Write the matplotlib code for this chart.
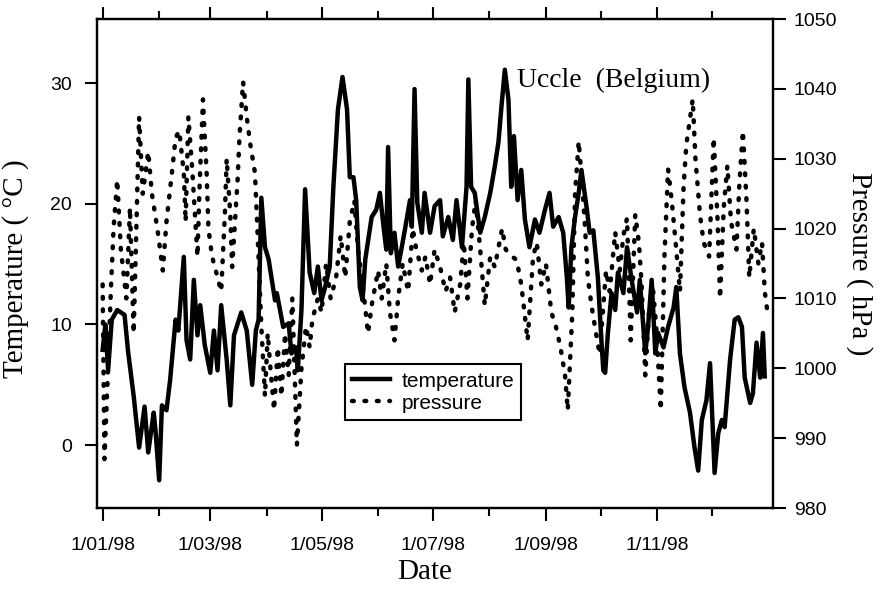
import datetime
import numpy as np
import matplotlib
matplotlib.use('Agg')
import matplotlib.pyplot as plt
import matplotlib.dates as mdates
from matplotlib.ticker import FixedLocator, FuncFormatter

# day of year (0 = 1 Jan 1998) and values
temp_day = [0, 1.5, 3, 5, 8, 12, 14, 17, 20, 23, 25, 28, 29, 31, 32.5, 35, 37, 40,
            41.5, 44.5, 46, 48, 50, 52, 53.5, 56, 59, 61, 63, 65, 68, 70, 72, 76,
            79, 82, 84, 85.5, 87, 89, 91, 94.5, 95.5, 99, 102, 103.5, 106, 107,
            109, 111, 113.5, 116, 118, 120, 122, 124.5, 126.5, 129, 131.5, 134,
            135.5, 137.5, 139, 141, 142.5, 144, 147.5, 150, 152, 154, 155.5,
            156.5, 158, 160, 162, 164, 166, 168.5, 169.5, 171, 172.5, 175, 176.5,
            179.5, 182, 185, 186.5, 189.5, 192, 194, 197, 199.5, 200.5, 202, 204,
            207, 209.5, 212.5, 215, 217, 218.5, 220.5, 222.5, 224, 225.5, 227.5,
            229.5, 231.5, 234, 237, 239.5, 242.5, 245, 247, 250, 252.5, 254.5,
            255.5, 257, 259, 261, 262.5, 265.5, 267, 269, 271.5, 273.5, 274.5,
            275.5, 277, 279, 281, 282.5, 285.5, 287.5, 290, 293, 294.5, 297.5, 299,
            301, 303, 304.5, 307.5, 310, 313, 314.5, 316.5, 319, 322, 324.5, 326.5,
            328.5, 331, 333, 335.5, 337.5, 339.5, 341, 344, 346.5, 348.5, 350.5,
            352, 355, 356.5, 358.5, 360.5, 362, 363]
temp_val = [7.9, 10, 6.2, 10.4, 11.2, 10.8, 7.7, 4.1, -0.2, 3.2, -0.6, 2.7, 1.2, -2.9,
            3.3, 2.9, 5.4, 10.4, 9.5, 15.6, 8.7, 7.1, 13.7, 9.1, 11.6, 8.3, 6.0, 9.5,
            6.2, 11.6, 7.1, 3.3, 9.1, 11, 9.5, 5.0, 9.5, 10.4, 20.5, 16.4, 15.4, 12,
            12.6, 9.8, 10.1, 7.6, 8.1, 6.2, 11.2, 21.2, 14.3, 12.6, 14.8, 12, 13.1,
            14.8, 21.4, 27.8, 30.5, 27.8, 22.2, 22.2, 20.3, 13.1, 12, 15.4, 18.9,
            19.5, 20.9, 18.1, 16.2, 24.7, 15.9, 17.6, 14.8, 16.4, 18.1, 20.3, 18.1,
            29.5, 20.1, 17.6, 20.9, 17.6, 19.8, 20.3, 17.3, 18.9, 17, 20.3, 16.4,
            21.4, 30.3, 21.4, 20.9, 17.6, 18.9, 20.9, 23.1, 25.1, 27.8, 31.1, 28.6,
            21.4, 25.6, 20.3, 22.8, 18.7, 16.4, 18.7, 17.6, 19.5, 20.9, 18.1, 18.9,
            17.6, 13.9, 11.4, 16.4, 18.9, 20.9, 22.8, 19.5, 17.6, 17.8, 13.9, 8.5,
            6.2, 6, 9.3, 12.6, 11.2, 14.3, 12.6, 16.4, 13.7, 11, 13.7, 7.6, 9.8,
            13.7, 7.6, 9.3, 8.1, 9.8, 11.4, 13.1, 7.6, 4.8, 2.7, -0.2, -2.1, 2.1,
            3.7, 6.8, -2.3, 1, 2.1, 1.5, 7.1, 10.4, 10.6, 9.8, 5.6, 3.5, 4.3, 8.5,
            5.6, 9.3, 5.7]

pres_day = [0, 1, 3, 4.5, 6, 8, 10, 13, 15, 17, 18, 20, 22, 25, 27, 30, 33, 35, 38,
            40, 42, 44.5, 45.5, 47, 49, 52, 53, 55, 57, 58, 60, 62, 65, 67, 68, 70,
            71, 74, 75, 77, 79, 81, 83.5, 85, 87, 89, 90.5, 92, 94, 96, 98, 100,
            102, 104, 106.5, 109, 111.5, 113.5, 115, 118, 120, 122.5, 125, 128,
            130.5, 133, 135.5, 138, 140, 143, 145.5, 147.5, 151, 153, 155.5, 157.5,
            160, 162, 164.5, 167.5, 170, 172, 175, 177, 179.5, 182, 185, 188, 190.5,
            193, 196, 198, 200, 202.5, 204.5, 207, 209.5, 212.5, 215, 219, 221,
            224.5, 227, 229.5, 233, 236, 238, 240.5, 243, 246, 248.5, 251, 253.5,
            255, 257.5, 259, 261, 263, 264.5, 266, 268, 270.5, 272.5, 274.5, 276,
            278, 281, 283.5, 285.5, 287.5, 289.5, 292, 294, 295.5, 297.5, 299.5,
            301.5, 303.5, 306, 308, 310, 312, 314.5, 316.5, 318.5, 320, 323.5, 325,
            327.5, 329.5, 332.5, 335, 337, 338.5, 340.5, 342.5, 344.5, 347.5, 349,
            351, 353, 354.5, 357, 359.5, 361.5, 363, 364.5]
pres_val = [1012, 987, 1000, 1011, 1020, 1027, 1017, 1010, 1023, 1005, 1015, 1036,
            1025, 1031, 1025, 1020, 1014, 1021, 1028, 1033, 1034, 1028, 1021, 1036,
            1029, 1016, 1025, 1038.5, 1028, 1020, 1016, 1014, 1011, 1022, 1030,
            1022, 1014.5, 1027, 1033, 1041, 1036, 1032, 1028, 1019, 1006, 996, 1005,
            1000, 994, 1003, 996, 1005, 999, 1010, 989, 1000, 1006, 1003, 1007,
            1010, 1008, 1015, 1010, 1013, 1019, 1013, 1021, 1024, 1017, 1011, 1005,
            1009, 1014, 1010, 1015, 1008, 1004, 1010, 1015, 1011, 1020, 1017, 1014,
            1016, 1012, 1017, 1014.5, 1011, 1013, 1008, 1012, 1018, 1010, 1020,
            1024, 1017, 1009, 1016, 1014.5, 1020, 1017, 1016, 1015.5, 1012, 1004,
            1016, 1018, 1012, 1015, 1008, 1006, 1003, 999, 994, 1008, 1025, 1032.5,
            1026, 1020, 1013, 1009, 1005, 1002, 1009, 1014, 1011, 1019.5, 1014,
            1019, 1021.5, 1004, 1022, 1018, 1012, 999, 1008, 1012, 1006, 994, 1016,
            1028.5, 1024, 1017, 1011, 1026, 1032, 1038.5, 1030, 1022, 1018, 1016,
            1033, 1022, 1010, 1023, 1029, 1021, 1017, 1026, 1034, 1024, 1013, 1020,
            1015, 1018, 1011, 1008]

tick_major = ['1998-01-01', '1998-03-01', '1998-05-01', '1998-07-01',
              '1998-09-01', '1998-11-01']
tick_minor = ['1998-02-01', '1998-04-01', '1998-06-01', '1998-08-01',
              '1998-10-01', '1998-12-01']

base = mdates.date2num(datetime.datetime(1998, 1, 1))
serif = 'Liberation Serif'
sans = 'Liberation Sans'

fig = plt.figure(figsize=(8.84, 5.89), dpi=100)
ax = fig.add_axes([0.1097, 0.1375, 0.7647, 0.8302])
ax2 = ax.twinx()

l1, = ax.plot(base + np.array(temp_day), temp_val, color='black', lw=3.2,
              solid_joinstyle='round', label='temperature')
l2, = ax2.plot(base + np.array(pres_day), pres_val, color='black', lw=3.2,
               linestyle=(0, (0.4, 2.4)), dash_capstyle='round',
               label='pressure')

ax.set_xlim(base - 3.1, base + 367.5)
ax.set_ylim(-5.2, 35.3)
ax2.set_ylim(980, 1050)
ax.set_yticks([0, 10, 20, 30])
ax2.set_yticks(np.arange(980, 1051, 10))

to_num = lambda lst: [mdates.date2num(datetime.datetime.fromisoformat(s)) for s in lst]
ax.xaxis.set_major_locator(FixedLocator(to_num(tick_major)))
ax.xaxis.set_minor_locator(FixedLocator(to_num(tick_minor)))


def fmt(v, pos):
    d = mdates.num2date(v)
    return f"{d.day}/{d.month:02d}/{d.year % 100:02d}"


ax.xaxis.set_major_formatter(FuncFormatter(fmt))

for a in (ax, ax2):
    for s in a.spines.values():
        s.set_linewidth(1.6)
ax.tick_params(axis='x', which='both', direction='out', top=True, width=1.5)
ax.tick_params(axis='x', which='major', length=9, pad=12)
ax.tick_params(axis='x', which='minor', length=6)
ax.tick_params(axis='y', direction='out', length=9, width=1.5, pad=9)
ax2.tick_params(axis='y', direction='out', length=9, width=1.5, pad=6)
for lab in ax.get_xticklabels() + ax.get_yticklabels() + ax2.get_yticklabels():
    lab.set_fontfamily(sans)
    lab.set_fontsize(14)

ax.set_xlabel('Date', fontfamily=serif, fontsize=21)
ax.xaxis.set_label_coords(0.485, -0.105)
ax.set_ylabel('Temperature ( °C )', fontfamily=serif, fontsize=21)
ax.yaxis.set_label_coords(-0.1, 0.49)
ax2.set_ylabel('Pressure ( hPa )', fontfamily=serif, fontsize=21, rotation=-90,
               va='center')
ax2.yaxis.set_label_coords(1.128, 0.5)

ax.text(0.621, 0.875, 'Uccle  (Belgium)', transform=ax.transAxes,
        fontfamily=serif, fontsize=20, va='center', ha='left')

leg = ax.legend([l1, l2], ['temperature', 'pressure'], loc='lower left',
                bbox_to_anchor=(0.367, 0.18), prop={'family': sans, 'size': 15},
                fancybox=False, edgecolor='black', framealpha=1,
                handlelength=1.8, handletextpad=0.55, labelspacing=0.15,
                borderpad=0.35, borderaxespad=0)
leg.get_frame().set_linewidth(1.5)

fig.savefig('out.png', dpi=100)
